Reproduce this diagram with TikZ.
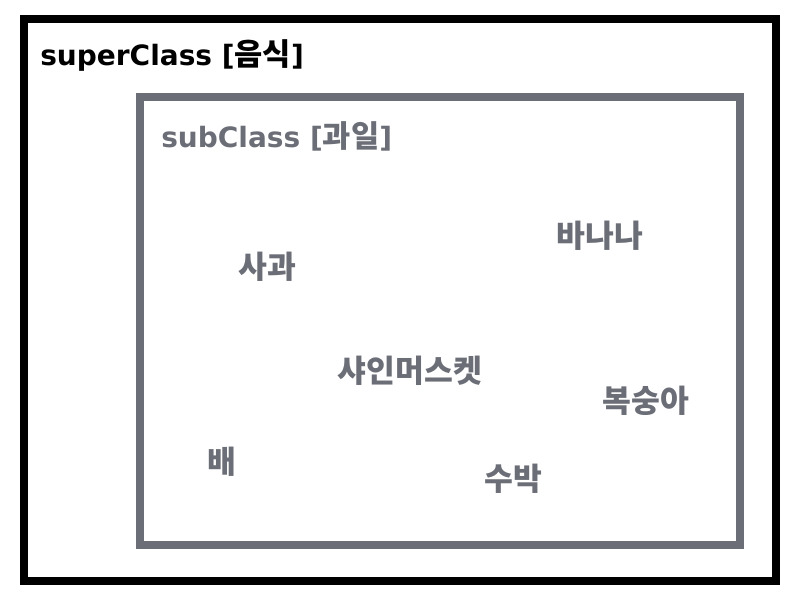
\documentclass[tikz,border=0pt]{standalone}
\usepackage{fontspec}
\setmainfont{Noto Sans CJK KR}
\newfontfamily\latfont{DejaVu Sans}
\newfontfamily\krfont{Noto Sans CJK KR}
\definecolor{subgray}{RGB}{107,110,118}
\newcommand{\mixtitle}[2]{{\latfont\fontsize{21}{23}\selectfont\bfseries #1 [}{\krfont\fontsize{23}{25}\selectfont\bfseries #2}{\latfont\fontsize{21}{23}\selectfont\bfseries ]}}
\begin{document}
\begin{tikzpicture}[x=0.75pt,y=-0.75pt,
  titletext/.style={anchor=base west,inner sep=0pt},
  fruit/.style={anchor=center,inner sep=0pt,text=subgray,font=\krfont\fontsize{23.5}{25}\selectfont\bfseries}]
\useasboundingbox[fill=white] (0,0) rectangle (800,600);
\draw[line width=6pt,black] (24,19) rectangle (776,581);
\draw[line width=6pt,subgray] (140,97) rectangle (740,545);
\node[titletext] (super) at (40,65) {\mixtitle{superClass}{음식}};
\node[titletext,text=subgray] (sub) at (161,147) {\mixtitle{subClass}{과일}};
\node[fruit] (apple) at (267,267) {사과};
\node[fruit] (banana) at (600,236) {바나나};
\node[fruit] (muscat) at (410,371) {샤인머스켓};
\node[fruit] (peach) at (646,401) {복숭아};
\node[fruit] (pear) at (222,462) {배};
\node[fruit] (melon) at (513,479) {수박};
\end{tikzpicture}
\end{document}
